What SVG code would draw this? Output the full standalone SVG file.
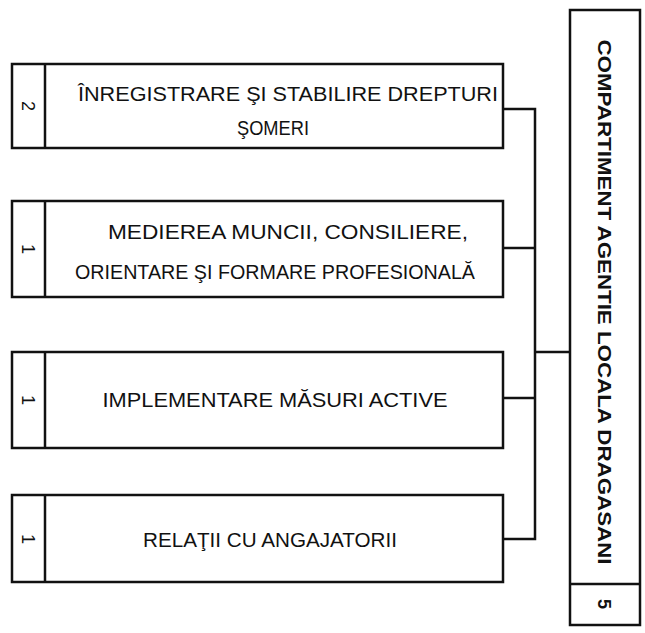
<svg xmlns="http://www.w3.org/2000/svg" width="645" height="633" viewBox="0 0 645 633">
<style>
.box{fill:#fff;stroke:#111;stroke-width:2.5}
.ln{fill:none;stroke:#111;stroke-width:2.5}
.t{font-family:"Liberation Sans",Arial,sans-serif;font-size:20px;fill:#111;text-anchor:middle}
.n{font-family:"Liberation Sans",Arial,sans-serif;font-size:18px;fill:#111;text-anchor:middle}
.v{font-family:"Liberation Sans",Arial,sans-serif;font-size:18px;font-weight:bold;fill:#111;text-anchor:middle}
</style>
<rect width="645" height="633" fill="#fff"/>
<g id="connectors">
<polyline class="ln" points="503,109 535,109 535,539 503,539"/>
<line class="ln" x1="503" y1="248" x2="535" y2="248"/>
<line class="ln" x1="503" y1="398" x2="535" y2="398"/>
<line class="ln" x1="535" y1="352" x2="570" y2="352"/>
</g>
<g id="node1">
<rect class="box" x="12" y="64" width="491" height="84"/>
<line class="ln" x1="45" y1="64" x2="45" y2="148"/>
<text class="n" transform="translate(28,106) rotate(90)" dy="6">2</text>
<text class="t" x="288" y="101" textLength="420" lengthAdjust="spacingAndGlyphs">ÎNREGISTRARE ŞI STABILIRE DREPTURI</text>
<text class="t" x="273" y="135" textLength="72" lengthAdjust="spacingAndGlyphs">ŞOMERI</text>
</g>
<g id="node2">
<rect class="box" x="12" y="201" width="491" height="96"/>
<line class="ln" x1="45" y1="201" x2="45" y2="297"/>
<text class="n" transform="translate(28,249) rotate(90)" dy="6">1</text>
<text class="t" x="288" y="239" textLength="360" lengthAdjust="spacingAndGlyphs">MEDIEREA MUNCII, CONSILIERE,</text>
<text class="t" x="275" y="279" textLength="400" lengthAdjust="spacingAndGlyphs">ORIENTARE ŞI FORMARE PROFESIONALĂ</text>
</g>
<g id="node3">
<rect class="box" x="12" y="352" width="491" height="96"/>
<line class="ln" x1="45" y1="352" x2="45" y2="448"/>
<text class="n" transform="translate(28,400) rotate(90)" dy="6">1</text>
<text class="t" x="275" y="407" textLength="345" lengthAdjust="spacingAndGlyphs">IMPLEMENTARE MĂSURI ACTIVE</text>
</g>
<g id="node4">
<rect class="box" x="12" y="495" width="491" height="87"/>
<line class="ln" x1="45" y1="495" x2="45" y2="582"/>
<text class="n" transform="translate(28,539) rotate(90)" dy="6">1</text>
<text class="t" x="270" y="547" textLength="254" lengthAdjust="spacingAndGlyphs">RELAŢII CU ANGAJATORII</text>
</g>
<g id="compartiment">
<rect class="box" x="570" y="10" width="70" height="615"/>
<line class="ln" x1="570" y1="584" x2="640" y2="584"/>
<text class="v" transform="translate(604,302) rotate(90)" dy="6" textLength="525" lengthAdjust="spacingAndGlyphs">COMPARTIMENT AGENTIE LOCALA DRAGASANI</text>
<text class="n" transform="translate(604,604) rotate(90)" dy="6" font-weight="bold">5</text>
</g>
</svg>
